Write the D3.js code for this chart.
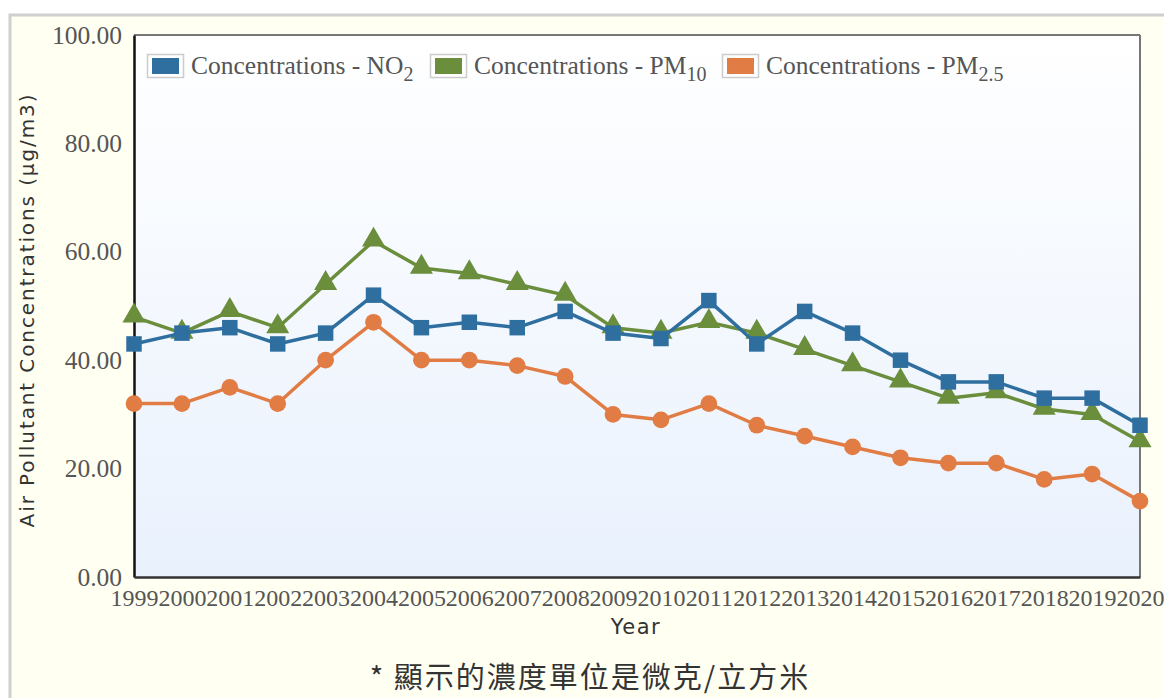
<!DOCTYPE html>
<html><head><meta charset="utf-8">
<script src="https://cdn.jsdelivr.net/npm/d3@7/dist/d3.min.js"></script>
<style>html,body{margin:0;padding:0;background:#fff;}svg{display:block;}</style>
</head><body>
<svg id="chart" width="1164" height="698"></svg>
<script>
const years = ["1999","2000","2001","2002","2003","2004","2005","2006","2007","2008","2009","2010","2011","2012","2013","2014","2015","2016","2017","2018","2019","2020"];
const no2  = [43,45,46,43,45,52,46,47,46,49,45,44,51,43,49,45,40,36,36,33,33,28];
const pm10 = [48,45,49,46,54,62,57,56,54,52,46,45,47,45,42,39,36,33,34,31,30,25];
const pm25 = [32,32,35,32,40,47,40,40,39,37,30,29,32,28,26,24,22,21,21,18,19,14];
const yTicks = [0,20,40,60,80,100];
const seriesNames = ["NO", "PM", "PM"];
const seriesSubs = ["2", "10", "2.5"];
const colors = ["#2f6f9f", "#6a8e3c", "#e07c44"];
const markers = ["square", "triangle", "circle"];

const svg = d3.select("#chart");
const L = 134, R = 1140, T = 35, B = 577;

svg.append("rect").attr("x",10).attr("y",15).attr("width",1164).attr("height",700)
  .attr("fill","#fffff2").attr("stroke","#d0d0d0").attr("stroke-width",3);

const defs = svg.append("defs");
const grad = defs.append("linearGradient").attr("id","bg").attr("x1",0).attr("y1",0).attr("x2",0).attr("y2",1);
grad.append("stop").attr("offset","0%").attr("stop-color","#ffffff");
grad.append("stop").attr("offset","100%").attr("stop-color","#e9f1fd");

const x = d3.scalePoint().domain(years).range([L, R]);
const y = d3.scaleLinear().domain([0,100]).range([B, T]);

svg.append("rect").attr("x",L).attr("y",T).attr("width",R-L).attr("height",B-T)
  .attr("fill","url(#bg)");
svg.append("line").attr("x1",L).attr("x2",R).attr("y1",T).attr("y2",T).attr("stroke","#777").attr("stroke-width",2);
svg.append("line").attr("x1",R).attr("x2",R).attr("y1",T).attr("y2",B).attr("stroke","#777").attr("stroke-width",2);

const yAxis = d3.axisLeft(y).tickValues(yTicks).tickFormat(d3.format(".2f")).tickSize(0).tickPadding(12);
const gy = svg.append("g").attr("transform",`translate(${L},0)`).call(yAxis);
gy.select(".domain").attr("stroke","#111").attr("stroke-width",2.5);
gy.selectAll("text").attr("font-family","'Liberation Serif', serif").attr("font-size",25.5).attr("fill","#555");

const xAxis = d3.axisBottom(x).tickSize(0).tickPadding(12);
const gx = svg.append("g").attr("transform",`translate(0,${B})`).call(xAxis);
gx.select(".domain").attr("stroke","#333").attr("stroke-width",2.5);
gx.selectAll("text").attr("font-family","'Liberation Serif', serif").attr("font-size",24).attr("fill","#555");

svg.append("text").attr("transform",`translate(34,${(T+B)/2 + 4}) rotate(-90)`)
  .attr("text-anchor","middle").attr("font-family","'DejaVu Sans', sans-serif").attr("font-size",20).attr("fill","#333")
  .attr("letter-spacing","1.9")
  .text("Air Pollutant Concentrations (μg/m3)");
svg.append("text").attr("x",636).attr("y",634).attr("text-anchor","middle")
  .attr("font-family","'DejaVu Sans', sans-serif").attr("font-size",21).attr("fill","#333")
  .attr("letter-spacing","1.5").text("Year");

svg.append("text").attr("x",590).attr("y",688).attr("text-anchor","middle")
  .attr("font-family","'Noto Sans CJK TC', sans-serif").attr("font-size",29).attr("fill","#333")
  .attr("letter-spacing","2")
  .text("* 顯示的濃度單位是微克/立方米");

const data = [no2, pm10, pm25];
const line = d3.line().x((d,i)=>x(years[i])).y(d=>y(d));
[2,1,0].forEach(si => {
  const vals = data[si];
  const g = svg.append("g");
  g.append("path").datum(vals).attr("d", line).attr("fill","none")
    .attr("stroke", colors[si]).attr("stroke-width",3.5).attr("stroke-linejoin","round");
  const sym = markers[si]==="square" ? d3.symbolSquare : markers[si]==="triangle" ? d3.symbolTriangle : d3.symbolCircle;
  const size = markers[si]==="square" ? 240 : markers[si]==="triangle" ? 230 : 220;
  g.selectAll("path.m").data(vals).enter().append("path").attr("class","m")
    .attr("d", d3.symbol().type(sym).size(size))
    .attr("transform",(d,i)=>`translate(${x(years[i])},${y(d) + (markers[si]==="triangle" ? -1 : 0)})`)
    .attr("fill", colors[si]);
});

const legendX = [147, 430, 722];
const lg = svg.append("g");
seriesNames.forEach((n,i)=>{
  lg.append("rect").attr("x",legendX[i]+0.5).attr("y",54.5).attr("width",36).attr("height",23)
    .attr("fill","#fff").attr("stroke","#ccc").attr("stroke-width",1.5);
  lg.append("rect").attr("x",legendX[i]+5).attr("y",58).attr("width",27).attr("height",16).attr("fill",colors[i]);
  const t = lg.append("text").attr("x",legendX[i]+44).attr("y",74)
    .attr("font-family","'Liberation Serif', serif").attr("font-size",25.5).attr("fill","#555");
  t.append("tspan").text("Concentrations - " + n);
  t.append("tspan").attr("font-size",20).attr("dy",7).text(seriesSubs[i]);
});
</script>
</body></html>
